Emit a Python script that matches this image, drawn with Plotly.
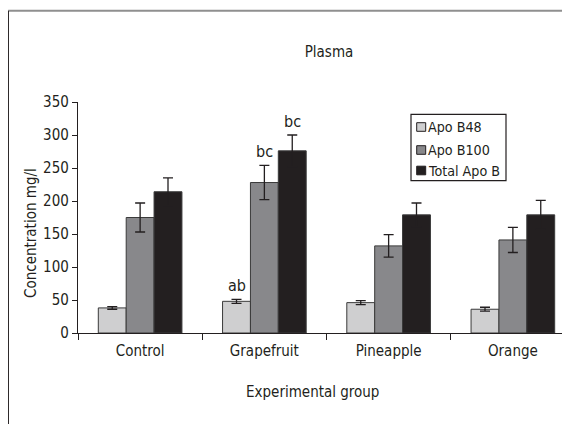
import plotly.graph_objects as go

categories = ["Control", "Grapefruit", "Pineapple", "Orange"]
series_names = ["Apo B48", "Apo B100", "Total Apo B"]
apo_b48 = [38, 48, 46, 36]
apo_b48_err = [2, 3, 3, 3]
apo_b100 = [175, 228, 132, 141]
apo_b100_err = [22, 26, 17, 19]
total_apo_b = [214, 276, 179, 179]
total_apo_b_err = [21, 24, 18, 22]
y_ticks = [0, 50, 100, 150, 200, 250, 300, 350]
sig_labels = [("ab", 1, 0), ("bc", 1, 1), ("bc", 1, 2)]  # (text, category index, series index)

colors = ["#cfcfd0", "#88888b", "#231f20"]
INK = "#231f20"
FONT = "DejaVu Sans Condensed, DejaVu Sans, sans-serif"
FS = 15

values = [apo_b48, apo_b100, total_apo_b]
errs = [apo_b48_err, apo_b100_err, total_apo_b_err]

# page layout numbers (paper px); the page body adds an 8px offset
W, H = 570, 424
ML, MR, MT, MB = 70, 3, 94, 99
PW = W - ML - MR
PH = H - MT - MB


def fx(px):  # paper px -> plot-area fraction (x)
    return (px - ML) / PW


def fy(py):  # paper px (from top) -> plot-area fraction (y)
    return (H - MB - py) / PH


fig = go.Figure()
for name, v, e, c in zip(series_names, values, errs, colors):
    fig.add_trace(go.Bar(
        x=categories, y=v, name=name, showlegend=False,
        marker=dict(color=c, line=dict(color="#3a3a3a", width=1)),
        error_y=dict(type="data", array=e, visible=True, color=INK,
                     thickness=1.3, width=5),
    ))

n = len(series_names)
bargap = 0.327
slot = (1 - bargap) / n
for text, ci, si in sig_labels:
    xoff = -((1 - bargap) / 2) + slot * (si + 0.5)
    top = values[si][ci] + errs[si][ci]
    fig.add_annotation(x=ci + xoff, y=top, text=text, showarrow=False,
                       yanchor="bottom", yshift=2, xref="x", yref="y",
                       font=dict(family=FONT, size=FS + 1, color=INK))

# axis titles
fig.add_annotation(x=fx(304.7), y=fy(383.7), xref="paper", yref="paper",
                   text="Experimental group", showarrow=False,
                   xanchor="center", yanchor="middle",
                   font=dict(family=FONT, size=FS, color=INK))
fig.add_annotation(x=fx(23), y=fy(225), xref="paper", yref="paper",
                   text="Concentration mg/l", showarrow=False, textangle=-90,
                   xanchor="center", yanchor="middle",
                   font=dict(family=FONT, size=FS, color=INK))

# legend (box, swatches, labels)
lx0, lx1, ly0, ly1 = 403, 498, 106.3, 172.7
fig.add_shape(type="rect", xref="paper", yref="paper",
              x0=fx(lx0), x1=fx(lx1), y0=fy(ly1), y1=fy(ly0),
              line=dict(color=INK, width=1.2), fillcolor="white")
row_y = [119, 142, 162.5]
for name, c, ry in zip(series_names, colors, row_y):
    fig.add_shape(type="rect", xref="paper", yref="paper",
                  x0=fx(408.7), x1=fx(417.7), y0=fy(ry + 4.3), y1=fy(ry - 4.3),
                  line=dict(color=INK, width=1), fillcolor=c)
    fig.add_annotation(x=fx(417.8), y=fy(ry), xref="paper", yref="paper",
                       text=name, showarrow=False, xanchor="left",
                       yanchor="middle",
                       font=dict(family=FONT, size=14.2, color=INK))

fig.update_layout(
    width=W, height=H,
    paper_bgcolor="white", plot_bgcolor="white",
    barmode="group", bargap=bargap, bargroupgap=0,
    margin=dict(l=ML, r=MR, t=MT, b=MB),
    font=dict(family=FONT, size=FS, color=INK),
    title=dict(text="Plasma", x=321 / W, xanchor="center",
               y=1 - 43.7 / H, yanchor="middle",
               font=dict(family=FONT, size=FS, color=INK)),
    showlegend=False,
)
fig.update_xaxes(
    range=[-0.5, 3.5], type="category",
    showline=True, linecolor=INK, linewidth=1.3,
    ticks="outside", tickson="boundaries", ticklen=6, tickcolor=INK,
    showgrid=False, zeroline=False, ticklabelstandoff=4,
    tickfont=dict(family=FONT, size=FS),
)
fig.update_yaxes(
    range=[0, 350], tickvals=y_ticks,
    showline=True, linecolor=INK, linewidth=1.3,
    ticks="outside", ticklen=5, tickcolor=INK,
    showgrid=False, zeroline=False,
    tickfont=dict(family=FONT, size=FS),
)

# outer frame (top gray, left dark)
fig.add_shape(type="line", xref="paper", yref="paper", x0=fx(0.2), x1=1.05,
              y0=fy(2.8), y1=fy(2.8), line=dict(color="#8f8f8f", width=2))
fig.add_shape(type="line", xref="paper", yref="paper", x0=fx(0.2), x1=fx(0.2),
              y0=fy(2.8), y1=fy(H + 10), line=dict(color=INK, width=1.5))

fig.write_html("out.html")
